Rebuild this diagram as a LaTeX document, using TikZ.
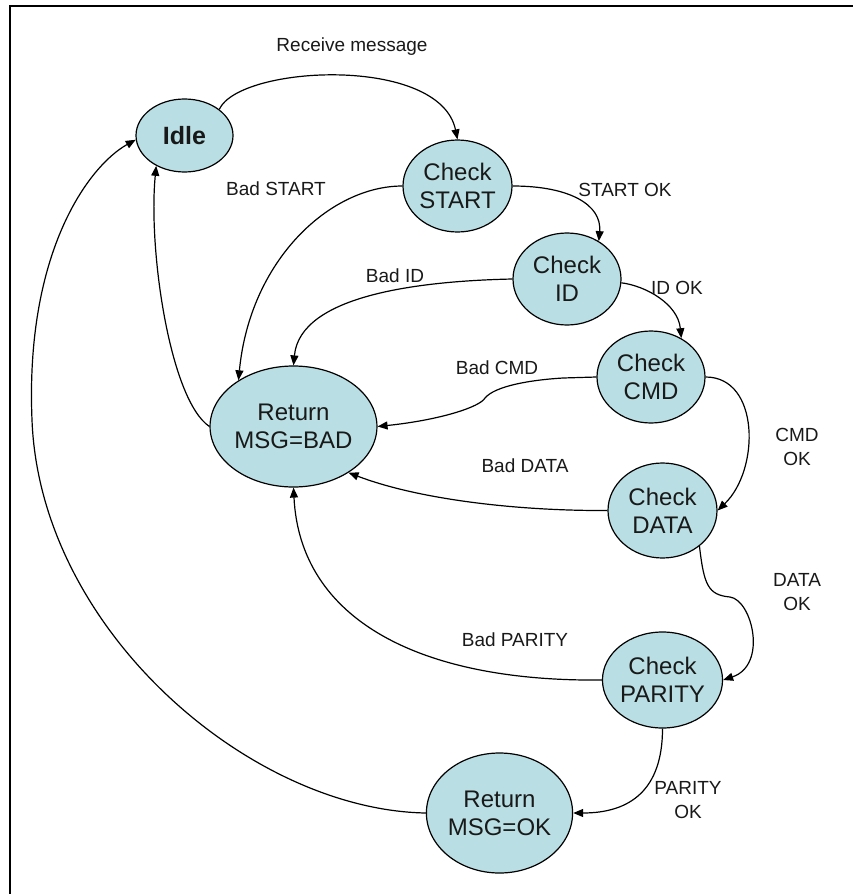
\documentclass[tikz,border=0pt]{standalone}
\usepackage{fontspec}
\setmainfont{Liberation Sans}
\usetikzlibrary{shapes.geometric,arrows.meta}
\definecolor{statefill}{RGB}{185,223,228}
\definecolor{inkgrey}{RGB}{25,25,25}

\begin{document}
\begin{tikzpicture}[x=1pt,y=-1pt,
  state/.style={ellipse, draw=black, line width=1.2pt, fill=statefill, inner sep=0pt,
    align=center, font=\fontsize{24}{28}\selectfont, text=inkgrey},
  trans/.style={draw=black, line width=1.2pt, -{Triangle[length=10pt,width=8pt]}},
  lbl/.style={font=\fontsize{19}{24}\selectfont, align=center, text=inkgrey, inner sep=0pt},
]
\useasboundingbox (0,0) rectangle (852,894);

% frame (top and left edges only)
\draw[line width=2.6pt, line join=miter] (10,900) -- (10,6) -- (860,6);

% states
\node[state, minimum width=97pt, minimum height=73pt,
      font=\bfseries\fontsize{25}{30}\selectfont] (idle) at (184.5,135.5) {Idle};
\node[state, minimum width=109pt, minimum height=92pt] (cstart) at (457.5,186) {Check\\START};
\node[state, minimum width=108pt, minimum height=92pt] (cid) at (567,279) {Check\\ID};
\node[state, minimum width=108pt, minimum height=92pt] (ccmd) at (651,377) {Check\\CMD};
\node[state, minimum width=109pt, minimum height=95pt] (cdata) at (662.5,510.5) {Check\\DATA};
\node[state, minimum width=109pt, minimum height=96pt] (cpar) at (662.5,680) {Check\\PARITY};
\node[state, minimum width=145pt, minimum height=121pt] (rbad) at (293.5,426.5) {Return\\MSG=BAD};
\node[state, minimum width=145pt, minimum height=120pt] (rok) at (499.5,813) {Return\\MSG=OK};

% forward transitions
\draw[trans] (idle.37) .. controls (240,65) and (440,55) .. (cstart.north);
\draw[trans] (cstart.east) .. controls (570,186) and (602,205) .. (cid.50);
\draw[trans] (cid.-4) .. controls (646,286) and (678,304) .. (ccmd.52);
\draw[trans] (ccmd.east) .. controls (760,377) and (760,470) .. (cdata.east);
\draw[trans] (cdata.-44) .. controls (704,585) and (708,595) .. (730,597)
             .. controls (752,600) and (768,665) .. (cpar.east);
\draw[trans] (cpar.south) .. controls (662.5,790) and (630,813) .. (rok.east);

% failure transitions
\draw[trans] (cstart.west) .. controls (330,186) and (250,260) .. (rbad.140);
\draw[trans] (cid.west) .. controls (420,281) and (300,295) .. (rbad.north);
\draw[trans] (ccmd.west) -- (563,378) .. controls (530,380) and (495,386) .. (485,398)
             .. controls (480,407) and (440,420) .. (rbad.east);
\draw[trans] (cdata.west) .. controls (520,511) and (420,500) .. (rbad.-40);
\draw[trans] (cpar.west) .. controls (420,682) and (300,620) .. (rbad.-90);

% back to idle
\draw[trans] (rbad.west) .. controls (170,400) and (148,250) .. (idle.-133);
\draw[trans] (rok.west) .. controls (250,810) and (40,630) .. (32,420)
             .. controls (25,250) and (90,165) .. (idle.185);

% transition labels
\node[lbl] (lrecv) at (352,47) {Receive message};
\node[lbl] (lbstart) at (276,189) {Bad START};
\node[lbl] (lstok) at (625,190) {START OK};
\node[lbl] (lbid) at (395,276) {Bad ID};
\node[lbl] (lidok) at (677,288) {ID OK};
\node[lbl] (lbcmd) at (497,368) {Bad CMD};
\node[lbl] (lcmdok) at (797,447) {CMD\\OK};
\node[lbl] (lbdata) at (525,466) {Bad DATA};
\node[lbl] (ldataok) at (797,592) {DATA\\OK};
\node[lbl] (lbpar) at (515,640) {Bad PARITY};
\node[lbl] (lparok) at (688,800) {PARITY\\OK};
\end{tikzpicture}
\end{document}
